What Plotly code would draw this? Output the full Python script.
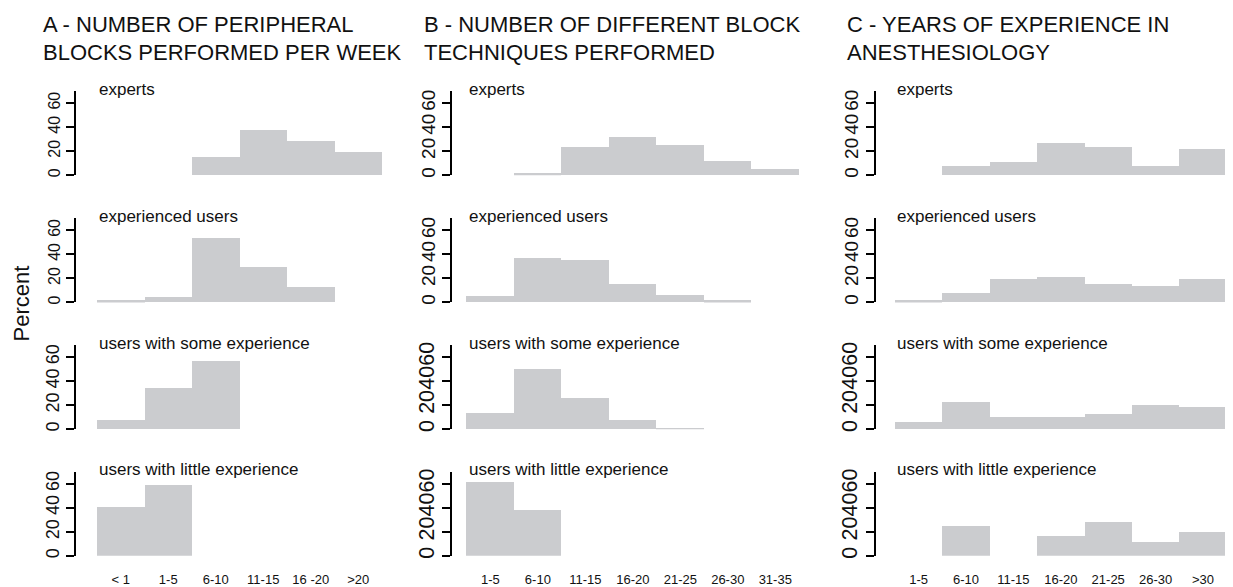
import plotly.graph_objects as go

# The page body adds an 8 px margin, so the figure is drawn 8 px in from the
# window's corner; reference pixel p maps to figure pixel p - OFF.
WIN_W, WIN_H = 1233, 587
OFF = 8
W, H = WIN_W - OFF, WIN_H - OFF

# ---------------- data ----------------
groups = ["experts", "experienced users", "users with some experience", "users with little experience"]

cats_A = ["< 1", "1-5", "6-10", "11-15", "16 -20", ">20"]
A_experts = [0, 0, 15, 37.5, 28.5, 19]
A_experienced = [1.5, 4, 53, 29, 13, 0]
A_some = [7.5, 34, 57, 0, 0, 0]
A_little = [41, 59, 0, 0, 0, 0]

cats_B = ["1-5", "6-10", "11-15", "16-20", "21-25", "26-30", "31-35"]
B_experts = [0, 1.5, 23.6, 31.8, 25.2, 12, 5.5]
B_experienced = [4.9, 36.9, 35.2, 15.4, 6.3, 1.4, 0]
B_some = [13.4, 50.4, 25.8, 7.7, 1.1, 0, 0]
B_little = [61.5, 38.5, 0, 0, 0, 0, 0]

cats_C = ["1-5", "6-10", "11-15", "16-20", "21-25", "26-30", ">30"]
C_experts = [0, 7.9, 11.2, 26.8, 23.5, 7.9, 21.9]
C_experienced = [1.4, 8, 19.6, 20.7, 15.4, 13.8, 19.6]
C_some = [6.2, 22.7, 10.4, 10.4, 12.9, 20.3, 18.6]
C_little = [0, 24.7, 0, 16.4, 28.5, 12.1, 20.3]

titles_A = ["A - NUMBER OF PERIPHERAL", "BLOCKS PERFORMED PER WEEK"]
titles_B = ["B - NUMBER OF DIFFERENT BLOCK", "TECHNIQUES PERFORMED"]
titles_C = ["C - YEARS OF EXPERIENCE IN", "ANESTHESIOLOGY"]
y_ticks = [0, 20, 40, 60]
y_label = "Percent"

# ---------------- layout helpers ----------------
FONT = "Liberation Sans, Arial, Helvetica, sans-serif"
BAR = "#cbcccf"

def fx(p):
    return (p - OFF) / W

def fy(p):
    return 1 - (p - OFF) / H

columns = [
    dict(cats=cats_A, series=[A_experts, A_experienced, A_some, A_little],
         axis_px=76, right_px=382, gap=0.442, titles=titles_A, tx=41,
         tick_font=[16, 16, 18, 18]),
    dict(cats=cats_B, series=[B_experts, B_experienced, B_some, B_little],
         axis_px=452.3, right_px=799, gap=0.303, titles=titles_B, tx=421.7,
         tick_font=[19, 19, 21.5, 21.5]),
    dict(cats=cats_C, series=[C_experts, C_experienced, C_some, C_little],
         axis_px=876, right_px=1226.7, gap=0.40, titles=titles_C, tx=845,
         tick_font=[19, 19, 21.5, 21.5]),
]

# zero-pixel of each row (reference pixels); 70 units span 85.3 px
row_zero = [174.5, 303.5, 432.0, 560.5]
row_h = 85.3

fig = go.Figure()
layout = dict()
annotations = []

k = 0
for ci, col in enumerate(columns):
    n = len(col["cats"])
    for ri in range(4):
        k += 1
        xa = "x" if k == 1 else f"x{k}"
        ya = "y" if k == 1 else f"y{k}"
        xkey = "xaxis" if k == 1 else f"xaxis{k}"
        ykey = "yaxis" if k == 1 else f"yaxis{k}"
        fig.add_trace(go.Bar(
            x=col["cats"], y=col["series"][ri], xaxis=xa, yaxis=ya,
            marker=dict(color=BAR, line=dict(width=0)),
            showlegend=False, hoverinfo="x+y",
        ))
        bottom = row_zero[ri]
        top = bottom - row_h
        layout[xkey] = dict(
            domain=[fx(col["axis_px"]), fx(col["right_px"])],
            anchor=ya, type="category",
            categoryorder="array", categoryarray=col["cats"],
            range=[-0.5 - col["gap"], n - 0.5],
            showline=False, showgrid=False, zeroline=False,
            showticklabels=(ri == 3),
            ticks="outside" if ri == 3 else "", ticklen=12,
            tickcolor="rgba(0,0,0,0)",
            tickfont=dict(family=FONT, size=13, color="#111"),
            tickangle=0, fixedrange=True,
        )
        layout[ykey] = dict(
            domain=[fy(bottom), fy(top)], anchor=xa,
            range=[0, 70], tickvals=y_ticks, ticktext=[str(v) for v in y_ticks],
            tickangle=-90, showline=True, linecolor="black", linewidth=2,
            ticks="outside", ticklen=8, tickwidth=2, tickcolor="black",
            showgrid=False, zeroline=False,
            tickfont=dict(family=FONT, size=col["tick_font"][ri], color="#111"),
            fixedrange=True,
        )
        annotations.append(dict(
            text=groups[ri], xref=xa, yref=f"{ya} domain",
            x=-0.5, y=1.0, xanchor="left", yanchor="middle", yshift=2,
            showarrow=False, font=dict(family=FONT, size=17, color="#111"),
        ))
    # column titles (two lines)
    for t, cy in zip(col["titles"], [22, 50.5]):
        annotations.append(dict(
            text=t, xref="paper", yref="paper", x=fx(col["tx"]), y=fy(cy),
            xanchor="left", yanchor="middle", showarrow=False,
            font=dict(family=FONT, size=22, color="#111"),
        ))

annotations.append(dict(
    text=y_label, xref="paper", yref="paper", x=fx(21.5), y=fy(305),
    xanchor="center", yanchor="middle", textangle=-90, showarrow=False,
    font=dict(family=FONT, size=22, color="#111"),
))

fig.update_layout(
    width=W, height=H, margin=dict(l=0, r=0, t=0, b=0),
    paper_bgcolor="white", plot_bgcolor="white",
    bargap=0, annotations=annotations, **layout,
)

fig.write_html("out.html", config=dict(displayModeBar=False))
